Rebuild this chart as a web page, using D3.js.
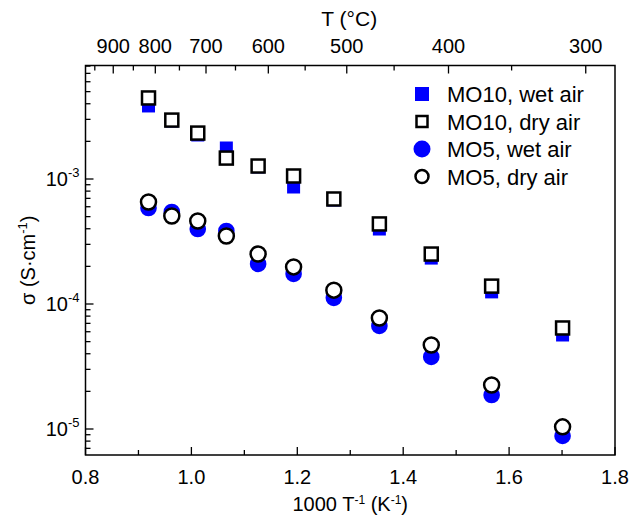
<!DOCTYPE html>
<html><head><meta charset="utf-8">
<script src="https://cdn.jsdelivr.net/npm/d3@7"></script>
<style>body{margin:0;background:#fff}svg{display:block}text{font-family:"Liberation Sans",Arial,sans-serif;fill:#000}</style>
</head><body><svg id="c" width="630" height="517"></svg>
<script>
// Data
const invT = [0.919, 0.963, 1.012, 1.066, 1.126, 1.193, 1.269, 1.355, 1.453, 1.567, 1.701];
const mo10Wet = [3.84e-3, 2.91e-3, 2.25e-3, 1.77e-3, 1.25e-3, 8.63e-4, 6.79e-4, 3.98e-4, 2.33e-4, 1.25e-4, 5.65e-5];
const mo10Dry = [4.45e-3, 2.96e-3, 2.33e-3, 1.47e-3, 1.27e-3, 1.057e-3, 6.92e-4, 4.37e-4, 2.51e-4, 1.39e-4, 6.43e-5];
const mo5Wet  = [5.86e-4, 5.45e-4, 3.98e-4, 3.84e-4, 2.09e-4, 1.74e-4, 1.12e-4, 6.67e-5, 3.77e-5, 1.87e-5, 8.79e-6];
const mo5Dry  = [6.55e-4, 5.06e-4, 4.61e-4, 3.50e-4, 2.51e-4, 1.98e-4, 1.29e-4, 7.73e-5, 4.70e-5, 2.25e-5, 1.04e-5];
const xTicks = [0.8, 1.0, 1.2, 1.4, 1.6, 1.8];
const xMinor = [0.9, 1.1, 1.3, 1.5, 1.7];
const tTicks = [900, 800, 700, 600, 500, 400, 300];
const tMinor = [950, 850, 750, 650, 550, 450, 350];
const yDecades = [-3, -4, -5];
const legendLabels = ["MO10, wet air", "MO10, dry air", "MO5, wet air", "MO5, dry air"];

const svg = d3.select("#c");
const L = 85.5, R = 615, T = 65.5, B = 455;
const x = d3.scaleLinear().domain([0.8, 1.8]).range([L, R]);
const yMin = Math.pow(10, -5 - 26/125), yMax = Math.pow(10, -3 + 113.5/125);
const y = d3.scaleLog().domain([yMin, yMax]).range([B, T]);
const blue = "#0000ff";
const fs = 20;

// Frame
svg.append("rect").attr("x", L).attr("y", T).attr("width", R - L).attr("height", B - T)
  .attr("fill", "none").attr("stroke", "#000").attr("stroke-width", 1.5);

const tk = svg.append("g").attr("stroke", "#000").attr("stroke-width", 1.3);
// bottom ticks (inward)
xTicks.forEach(v => tk.append("line").attr("x1", x(v)).attr("x2", x(v)).attr("y1", B).attr("y2", B - 8));
xMinor.forEach(v => tk.append("line").attr("x1", x(v)).attr("x2", x(v)).attr("y1", B).attr("y2", B - 5));
svg.append("g").selectAll("text").data(xTicks).join("text")
  .attr("x", d => x(d)).attr("y", B + 29).attr("text-anchor", "middle").attr("font-size", fs)
  .text(d => d3.format(".1f")(d));

// top ticks (temperature)
const tx = t => x(1000 / (t + 273.15));
tTicks.forEach(t => tk.append("line").attr("x1", tx(t)).attr("x2", tx(t)).attr("y1", T).attr("y2", T + 8));
tMinor.forEach(t => tk.append("line").attr("x1", tx(t)).attr("x2", tx(t)).attr("y1", T).attr("y2", T + 5));
svg.append("g").selectAll("text").data(tTicks).join("text")
  .attr("x", d => tx(d)).attr("y", T - 13).attr("text-anchor", "middle").attr("font-size", fs)
  .text(d => d);

// left ticks
const minorVals = [];
for (let e = -6; e <= -3; e++) for (let k = 1; k <= 9; k++) {
  const v = k * Math.pow(10, e);
  if (v >= yMin && v <= yMax) minorVals.push({v, major: k === 1});
}
minorVals.forEach(d => tk.append("line").attr("x1", L).attr("x2", L + (d.major ? 8 : 5))
  .attr("y1", y(d.v)).attr("y2", y(d.v)));
const yl = svg.append("g");
yDecades.forEach(e => {
  const t = yl.append("text").attr("x", L - 6).attr("y", y(Math.pow(10, e)) + 7)
    .attr("text-anchor", "end").attr("font-size", fs);
  t.append("tspan").text("10");
  t.append("tspan").attr("dy", -9).attr("font-size", 13).text("-" + (-e));
});

// Axis titles
svg.append("text").attr("x", (L + R) / 2 - 1).attr("y", 26).attr("text-anchor", "middle").attr("font-size", 21).text("T (°C)");
const xt = svg.append("text").attr("x", (L + R) / 2).attr("y", 511).attr("text-anchor", "middle").attr("font-size", fs);
xt.append("tspan").text("1000 T");
xt.append("tspan").attr("dy", -7).attr("font-size", 12).text("-1");
xt.append("tspan").attr("dy", 7).text(" (K");
xt.append("tspan").attr("dy", -7).attr("font-size", 12).text("-1");
xt.append("tspan").attr("dy", 7).text(")");
const yt = svg.append("text").attr("transform", `translate(35,${(T + B) / 2}) rotate(-90)`)
  .attr("text-anchor", "middle").attr("font-size", fs);
yt.append("tspan").text("σ (S·cm");
yt.append("tspan").attr("dy", -8).attr("font-size", 13).text("-1");
yt.append("tspan").attr("dy", 8).text(")");

// Markers
const S = 13, RAD = 7.5, SW = 2.5;
function squares(vals, filled) {
  svg.append("g").selectAll("rect").data(vals).join("rect")
    .attr("x", (d, i) => x(invT[i]) - S / 2).attr("y", d => y(d) - S / 2)
    .attr("width", S).attr("height", S)
    .attr("fill", filled ? blue : "#fff")
    .attr("stroke", filled ? "none" : "#000").attr("stroke-width", SW);
}
function circles(vals, filled) {
  svg.append("g").selectAll("circle").data(vals).join("circle")
    .attr("cx", (d, i) => x(invT[i])).attr("cy", d => y(d))
    .attr("r", filled ? RAD + 0.8 : RAD)
    .attr("fill", filled ? blue : "#fff")
    .attr("stroke", filled ? "none" : "#000").attr("stroke-width", SW);
}
squares(mo10Wet, true);
circles(mo5Wet, true);
squares(mo10Dry, false);
circles(mo5Dry, false);

// Legend
const lg = svg.append("g");
const lx = 422, ly0 = 94, ldy = 27.5;
legendLabels.forEach((lab, i) => {
  const cy = ly0 + i * ldy;
  if (i === 0) lg.append("rect").attr("x", lx - 7).attr("y", cy - 7).attr("width", 14).attr("height", 14).attr("fill", blue);
  if (i === 1) lg.append("rect").attr("x", lx - 5.5).attr("y", cy - 5.5).attr("width", 11).attr("height", 11).attr("fill", "#fff").attr("stroke", "#000").attr("stroke-width", SW);
  if (i === 2) lg.append("circle").attr("cx", lx).attr("cy", cy).attr("r", 8.5).attr("fill", blue);
  if (i === 3) lg.append("circle").attr("cx", lx).attr("cy", cy).attr("r", 6.5).attr("fill", "#fff").attr("stroke", "#000").attr("stroke-width", SW);
  lg.append("text").attr("x", lx + 25).attr("y", cy + 8).attr("font-size", 22).text(lab);
});
</script></body></html>
